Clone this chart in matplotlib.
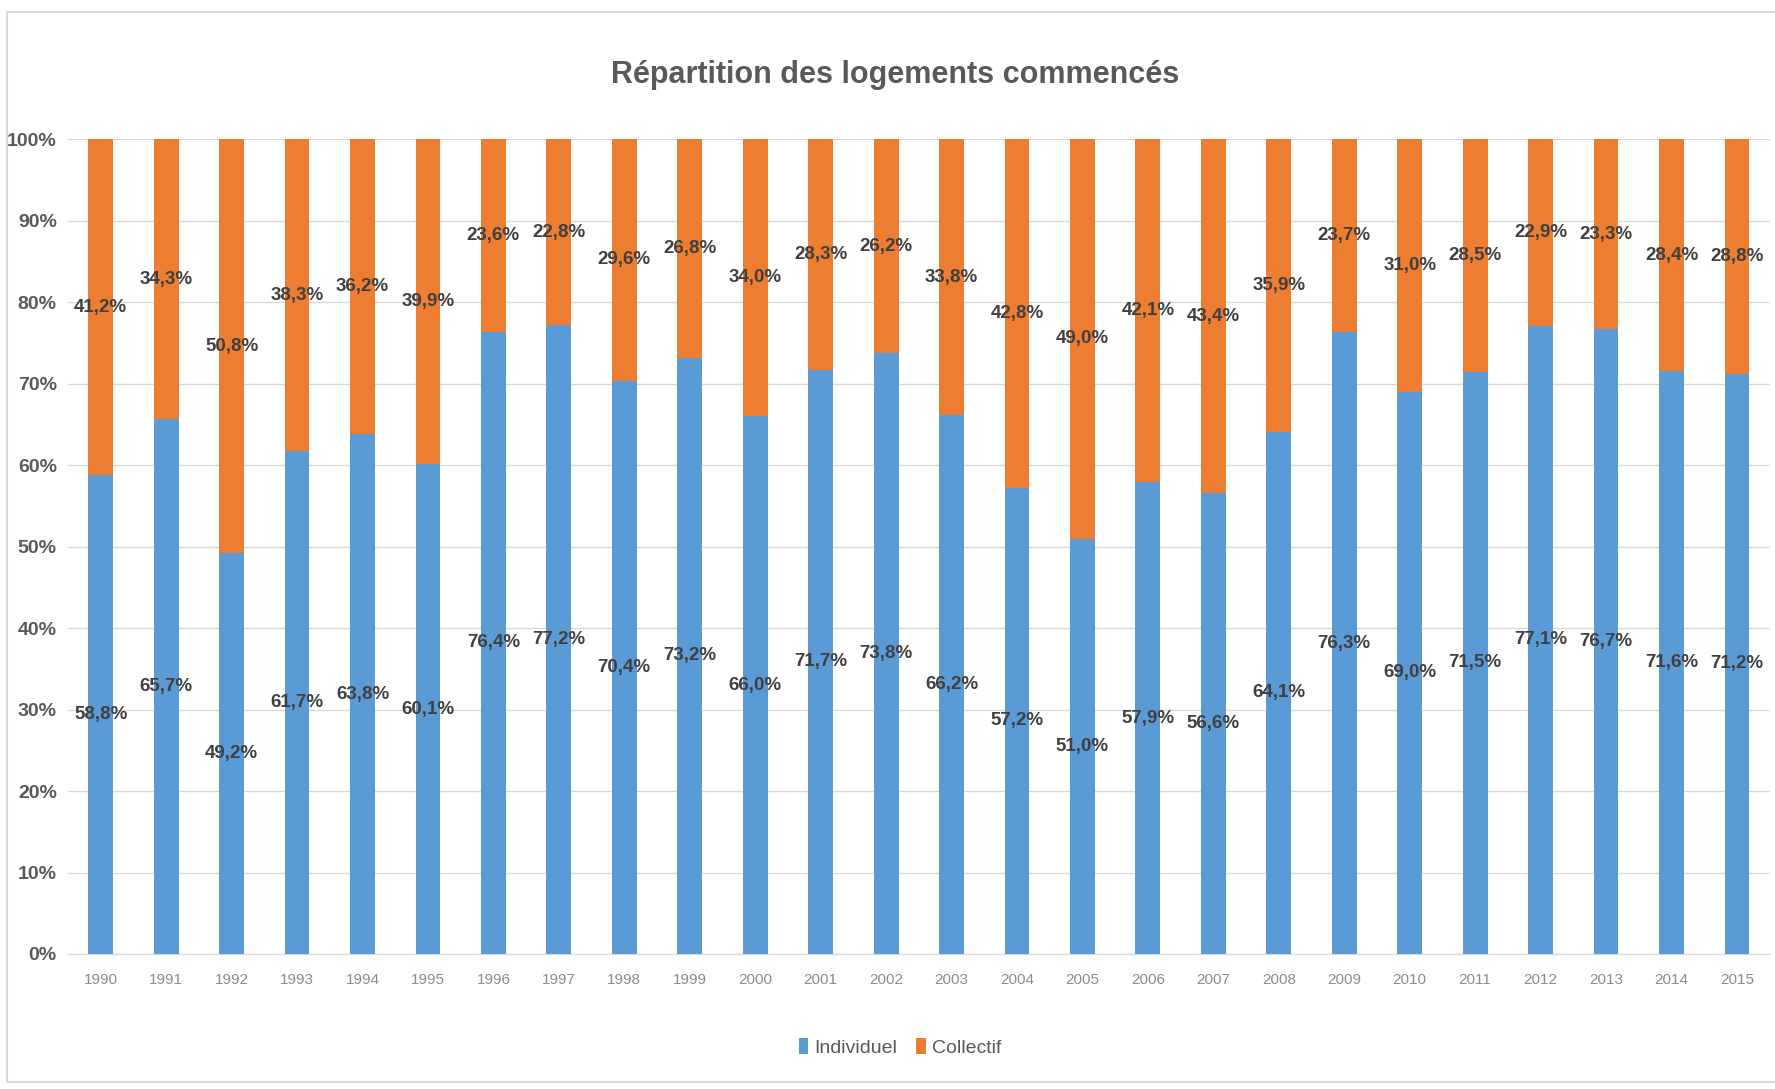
import matplotlib
matplotlib.use("Agg")
import matplotlib.pyplot as plt
from matplotlib.patches import Rectangle
import numpy as np

years = [str(y) for y in range(1990, 2016)]
individuel = [58.8, 65.7, 49.2, 61.7, 63.8, 60.1, 76.4, 77.2, 70.4, 73.2, 66.0, 71.7, 73.8,
              66.2, 57.2, 51.0, 57.9, 56.6, 64.1, 76.3, 69.0, 71.5, 77.1, 76.7, 71.6, 71.2]
collectif = [41.2, 34.3, 50.8, 38.3, 36.2, 39.9, 23.6, 22.8, 29.6, 26.8, 34.0, 28.3, 26.2,
             33.8, 42.8, 49.0, 42.1, 43.4, 35.9, 23.7, 31.0, 28.5, 22.9, 23.3, 28.4, 28.8]
yticks = [0, 10, 20, 30, 40, 50, 60, 70, 80, 90, 100]

BLUE = "#5B9BD5"
ORANGE = "#ED7D31"
FONT = ["Liberation Sans Narrow", "Liberation Sans", "DejaVu Sans"]
plt.rcParams["font.family"] = FONT

fig = plt.figure(figsize=(17.75, 10.89), dpi=100)
ax = fig.add_axes([0.0383, 0.124, 0.9587, 0.748])

x = np.arange(len(years))
w = 0.38
b1 = ax.bar(x, individuel, w, color=BLUE, label="Individuel", zorder=3)
b2 = ax.bar(x, collectif, w, bottom=individuel, color=ORANGE, label="Collectif", zorder=3)

def fmt(v):
    return f"{v:.1f}%".replace(".", ",")

for xi, vi, vc in zip(x, individuel, collectif):
    ax.text(xi, vi / 2, fmt(vi), ha="center", va="center", fontsize=13.5,
            fontweight="bold", color="#404040", zorder=4)
    ax.text(xi, vi + vc / 2, fmt(vc), ha="center", va="center", fontsize=13.5,
            fontweight="bold", color="#404040", zorder=4)

ax.set_xlim(-0.5, len(years) - 0.5)
ax.set_ylim(0, 100)
ax.set_yticks(yticks)
ax.set_yticklabels([f"{t}%" for t in yticks], fontsize=14, fontweight="bold", color="#595959")
ax.set_xticks(x)
ax.set_xticklabels(years, fontsize=11, color="#8c8c8c")
ax.tick_params(axis="both", length=0)
ax.tick_params(axis="x", pad=14)
ax.tick_params(axis="y", pad=8)
ax.grid(axis="y", color="#d9d9d9", linewidth=1, zorder=0)
for s in ["top", "right", "left"]:
    ax.spines[s].set_visible(False)
ax.spines["bottom"].set_color("#d9d9d9")

fig.text(0.5045, 0.931, "Répartition des logements commencés", ha="center", va="center",
         fontsize=22, fontweight="bold", color="#595959")

leg = fig.legend(handles=[b1, b2], labels=["Individuel", "Collectif"], loc="center",
                 bbox_to_anchor=(0.507, 0.038), ncol=2, frameon=False, fontsize=14,
                 handlelength=0.5, handleheight=0.9, handletextpad=0.3, columnspacing=1.0)
for t in leg.get_texts():
    t.set_color("#595959")

fig.patches.append(Rectangle((0.004, 0.006), 1.0, 0.983, transform=fig.transFigure,
                             fill=False, edgecolor="#d9d9d9", linewidth=1.5))

fig.savefig("out.png", dpi=100, facecolor="white")
